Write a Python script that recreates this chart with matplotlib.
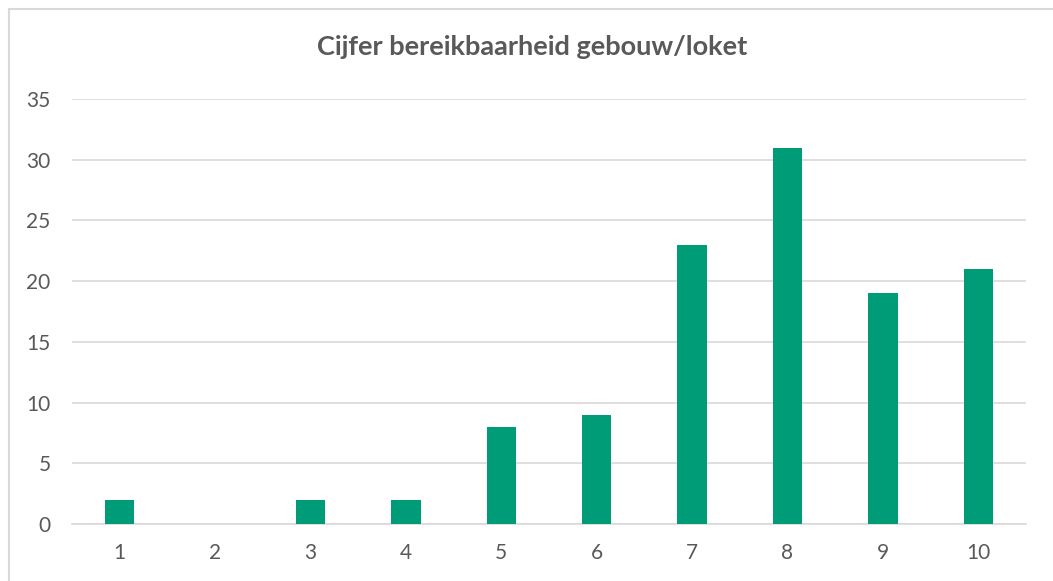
import matplotlib
matplotlib.use("Agg")
import matplotlib.pyplot as plt
from matplotlib.patches import Rectangle

# data
categories = [1, 2, 3, 4, 5, 6, 7, 8, 9, 10]
counts = [2, 0, 2, 2, 8, 9, 23, 31, 19, 21]
title = "Cijfer bereikbaarheid gebouw/loket"

plt.rcParams['font.family'] = ['Lato', 'DejaVu Sans']
text_col = '#595959'
bar_col = '#009B77'
grid_col = '#D9D9D9'

W, H = 1053, 581
fig = plt.figure(figsize=(W / 100, H / 100), dpi=100)

# chart border (only top/left visible in the crop)
fig.patches.append(Rectangle((9 / W, -0.1), 1.2, 1 - 9 / H + 0.1, transform=fig.transFigure,
                             fill=False, edgecolor='#D9D9D9', linewidth=1.5))

ax = fig.add_axes([72 / W, 1 - 524 / H, (1026 - 72) / W, (524 - 99) / H])
ax.bar(categories, counts, width=0.31, color=bar_col, zorder=3)

ax.set_xlim(0.5, 10.5)
ax.set_ylim(0, 35)
ax.set_xticks(categories)
ax.set_yticks(range(0, 36, 5))
ax.yaxis.grid(True, color=grid_col, linewidth=1.2)
ax.set_axisbelow(True)
for s in ['top', 'right', 'left']:
    ax.spines[s].set_visible(False)
ax.spines['bottom'].set_color(grid_col)
ax.spines['bottom'].set_linewidth(1.2)
ax.tick_params(length=0, labelsize=15, colors=text_col)
ax.tick_params(axis='y', pad=15.5)
ax.tick_params(axis='x', pad=14)

fig.text(532 / W, 1 - 47 / H, title, ha='center', va='center',
         fontsize=19.5, fontweight='bold', color=text_col)

fig.savefig('out.png', dpi=100)
